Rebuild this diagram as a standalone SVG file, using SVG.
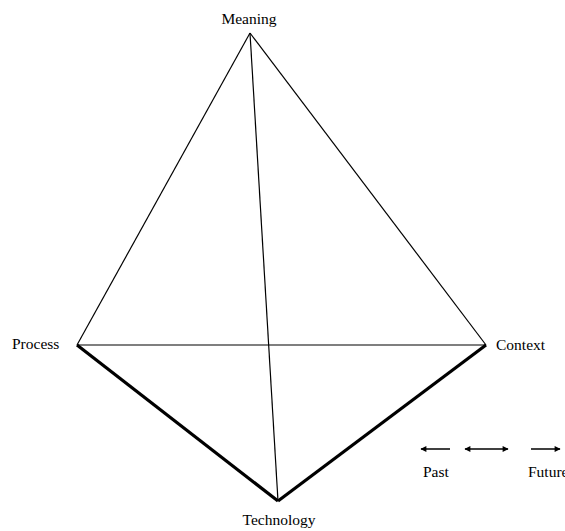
<svg xmlns="http://www.w3.org/2000/svg" width="565" height="531" viewBox="0 0 565 531">
<style>
text{font-family:"Liberation Serif","Times New Roman",serif;font-size:15.5px;fill:#000}
.thin{stroke:#000;stroke-width:1.2;fill:none}
.thick{stroke:#000;stroke-width:3.2;fill:none}
.arr{stroke:#000;stroke-width:1.5;fill:none}
</style>
<defs>
<marker id="ah" viewBox="0 0 10 10" refX="9" refY="5" markerWidth="8" markerHeight="6" markerUnits="userSpaceOnUse" orient="auto-start-reverse">
<path d="M0,0 L10,5 L0,10 z" fill="#000"/>
</marker>
</defs>
<rect width="565" height="531" fill="#fff"/>
<g id="connectors">
<line class="thin" x1="250" y1="33" x2="77" y2="345"/>
<line class="thin" x1="250" y1="33" x2="486" y2="345"/>
<line class="thin" x1="250" y1="33" x2="278" y2="501"/>
<line class="thin" x1="77" y1="345" x2="486" y2="345"/>
<line class="thick" x1="77" y1="345" x2="278" y2="501"/>
<line class="thick" x1="486" y1="345" x2="278" y2="501"/>
</g>
<g id="meaning"><text x="249" y="24" text-anchor="middle">Meaning</text></g>
<g id="process"><text x="12" y="349">Process</text></g>
<g id="context"><text x="496" y="350">Context</text></g>
<g id="technology"><text x="279" y="525" text-anchor="middle">Technology</text></g>
<g id="legend">
<line class="arr" x1="450" y1="449" x2="421" y2="449" marker-end="url(#ah)"/>
<line class="arr" x1="465" y1="449" x2="508" y2="449" marker-start="url(#ah)" marker-end="url(#ah)"/>
<line class="arr" x1="531" y1="449" x2="560" y2="449" marker-end="url(#ah)"/>
<text x="423" y="477">Past</text>
<text x="528" y="477">Future</text>
</g>
</svg>
